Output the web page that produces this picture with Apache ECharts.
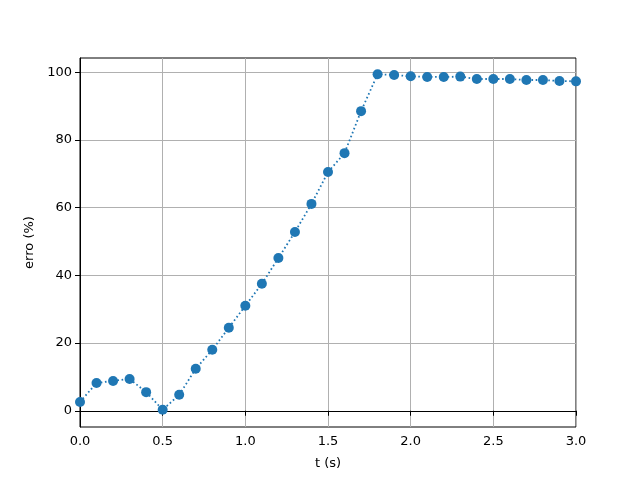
<!DOCTYPE html>
<html>
<head>
<meta charset="utf-8">
<script src="https://cdn.jsdelivr.net/npm/echarts@6/dist/echarts.min.js"></script>
<style>html,body{margin:0;padding:0;background:#fff}#c{width:640px;height:480px}</style>
</head>
<body>
<div id="c"></div>
<script>
const tValues = [0.0,0.1,0.2,0.3,0.4,0.5,0.6,0.7,0.8,0.9,1.0,1.1,1.2,1.3,1.4,1.5,1.6,1.7,1.8,1.9,2.0,2.1,2.2,2.3,2.4,2.5,2.6,2.7,2.8,2.9,3.0];
const erroValues = [2.6,8.2,8.8,9.4,5.5,0.3,4.7,12.4,18.0,24.5,31.0,37.5,45.1,52.8,61.1,70.5,76.1,88.5,99.4,99.2,98.8,98.6,98.6,98.7,98.0,98.0,98.0,97.7,97.7,97.4,97.3];
const yTicks = [0,20,40,60,80,100];
const xTicks = [0,0.5,1.0,1.5,2.0,2.5,3.0];

const font = 'DejaVu Sans';
const chart = echarts.init(document.getElementById('c'), null, {renderer:'canvas'});
chart.setOption({
  animation:false,
  backgroundColor:'#fff',
  grid:{left:80,right:64,top:58,bottom:53,show:true,borderColor:'#000',borderWidth:1,backgroundColor:'transparent'},
  xAxis:{
    type:'value',min:0,max:3,interval:0.5,
    name:'t (s)',nameLocation:'middle',nameGap:30,
    nameTextStyle:{fontFamily:font,fontSize:13,color:'#000'},
    axisLine:{show:true,lineStyle:{color:'#000',width:1}},
    axisTick:{show:true,inside:false,length:5,customValues:xTicks,lineStyle:{color:'#000',width:1}},
    axisLabel:{fontFamily:font,fontSize:13,color:'#000',margin:8,formatter:v=>v.toFixed(1)},
    splitLine:{show:true,lineStyle:{color:'#b0b0b0',width:1}}
  },
  yAxis:{
    type:'value',min:-4.8,max:104.2,
    name:'erro (%)',nameLocation:'middle',nameGap:37,nameRotate:90,
    nameTextStyle:{fontFamily:font,fontSize:13,color:'#000'},
    axisLine:{show:true,lineStyle:{color:'#000',width:1}},
    axisTick:{show:true,inside:false,length:5,customValues:yTicks,lineStyle:{color:'#000',width:1}},
    axisLabel:{fontFamily:font,fontSize:13,color:'#000',margin:8,customValues:yTicks,showMinLabel:true,showMaxLabel:true},
    splitLine:{show:true,lineStyle:{color:'#b0b0b0',width:1}}
  },
  series:[{
    type:'line',
    data:tValues.map((t,i)=>[t,erroValues[i]]),
    symbol:'circle',symbolSize:10,
    itemStyle:{color:'#1f77b4'},
    lineStyle:{color:'#1f77b4',width:1.8,type:[1.6,2.6]},
    clip:true
  }]
});
</script>
</body>
</html>
